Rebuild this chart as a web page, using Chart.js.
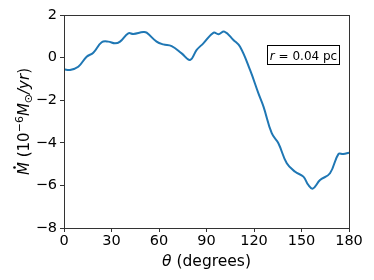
<!DOCTYPE html>
<html>
<head>
<meta charset="utf-8">
<script src="https://cdn.jsdelivr.net/npm/chart.js@4.4.1/dist/chart.umd.min.js"></script>
<style>
  html, body { margin: 0; padding: 0; background: #fff; }
  #wrap { width: 374px; height: 280px; }
</style>
</head>
<body>
<div id="wrap"><canvas id="mdot" width="374" height="280"></canvas></div>
<script>
// theta (degrees) and mass flux (10^-6 Msun/yr)
const theta = [0, 3.8, 9, 14.3, 18.5, 23.8, 28, 32.2, 35.4, 40.6, 43.8, 50.1, 52.2, 58.5, 62.7, 68, 74.3, 79.6,
  83.8, 88, 94.5, 97.5, 101.3, 107, 111.2, 117.5, 122.8, 126, 131.2, 135.4, 140.7, 146, 151.2, 154.3, 157.1,
  161.7, 168, 173.3, 176.4, 180];
const mdot = [-0.55, -0.58, -0.43, 0.04, 0.23, 0.72, 0.75, 0.67, 0.75, 1.14, 1.11, 1.2, 1.17, 0.75, 0.62, 0.54, 0.2, -0.11,
  0.36, 0.67, 1.17, 1.1, 1.22, 0.83, 0.51, -0.58, -1.68, -2.3, -3.55, -4.02, -4.96, -5.36, -5.59, -5.98, -6.15,
  -5.75, -5.43, -4.53, -4.53, -4.46];
const xTicks = [0, 30, 60, 90, 120, 150, 180];
const yTicks = [2, 0, -2, -4, -6, -8];
const boxLabel = ['r', ' = 0.04 pc'];

const TXT = '#000';
const FONT = 'DejaVu Sans';

// draws runs of text, each with its own style and offset
function drawRuns(c, runs, x, y, align) {
  let total = 0;
  runs.forEach(r => { c.font = r.font; r.w = c.measureText(r.t).width; total += r.w; });
  let cx = align === 'center' ? x - total / 2 : x;
  runs.forEach(r => {
    c.font = r.font;
    c.fillText(r.t, cx, y + (r.dy || 0));
    if (r.dot) {
      c.beginPath();
      c.arc(cx + r.w * 0.58, y - 14.5, 1.3, 0, Math.PI * 2);
      c.fill();
    }
    cx += r.w;
  });
}

const decor = {
  id: 'decor',
  afterDraw(chart) {
    const c = chart.ctx, a = chart.chartArea;
    c.save();
    c.strokeStyle = '#333';
    c.lineWidth = 1;
    c.strokeRect(Math.round(a.left) + 0.5, Math.round(a.top) + 0.5,
      Math.round(a.right - a.left), Math.round(a.bottom - a.top));

    c.fillStyle = TXT;
    c.textBaseline = 'alphabetic';
    // x label
    drawRuns(c, [
      { t: 'θ', font: 'italic 15.5px ' + FONT },
      { t: ' (degrees)', font: '15.5px ' + FONT }
    ], (a.left + a.right) / 2, 266, 'center');

    // y label
    c.save();
    c.translate(29, (a.top + a.bottom) / 2);
    c.rotate(-Math.PI / 2);
    drawRuns(c, [
      { t: 'M', font: 'italic 15px ' + FONT, dot: true },
      { t: ' (10', font: '15px ' + FONT },
      { t: '−6', font: '11px ' + FONT, dy: -6 },
      { t: 'M', font: 'italic 15px ' + FONT },
      { t: '⊙', font: '11px ' + FONT, dy: 3 },
      { t: '/yr', font: 'italic 15px ' + FONT },
      { t: ')', font: '15px ' + FONT }
    ], 0, 0, 'center');
    c.restore();

    // annotation box
    c.fillStyle = '#fff';
    c.fillRect(267.5, 45.5, 72, 19);
    c.strokeStyle = '#000';
    c.strokeRect(267.5, 45.5, 72, 19);
    c.fillStyle = TXT;
    drawRuns(c, [
      { t: boxLabel[0], font: 'italic 12px ' + FONT },
      { t: boxLabel[1], font: '12px ' + FONT }
    ], 303.5, 59.5, 'center');
    c.restore();
  }
};

new Chart(document.getElementById('mdot'), {
  type: 'line',
  data: {
    datasets: [{
      data: theta.map((t, i) => ({ x: t, y: mdot[i] })),
      borderColor: '#1f77b4',
      borderWidth: 2,
      pointRadius: 0,
      tension: 0.4,
      fill: false
    }]
  },
  options: {
    responsive: false,
    animation: false,
    layout: { padding: { top: 15, right: 25, left: 0, bottom: 0 } },
    plugins: { legend: { display: false }, tooltip: { enabled: false } },
    scales: {
      x: {
        type: 'linear', min: 0, max: 180,
        afterBuildTicks: s => { s.ticks = xTicks.map(v => ({ value: v })); },
        afterFit: s => { s.height = 52; },
        grid: { drawOnChartArea: false, drawTicks: true, tickLength: 4, color: '#333' },
        border: { display: false },
        ticks: { color: TXT, font: { family: FONT, size: 14.5 }, padding: 1, maxRotation: 0 }
      },
      y: {
        min: -8, max: 2,
        afterBuildTicks: s => { s.ticks = yTicks.map(v => ({ value: v })); },
        afterFit: s => { s.width = 64; },
        grid: { drawOnChartArea: false, drawTicks: true, tickLength: 4, color: '#333' },
        border: { display: false },
        ticks: {
          color: TXT, font: { family: FONT, size: 14.5 }, padding: 3,
          callback: v => String(v).replace('-', '−')
        }
      }
    }
  },
  plugins: [decor]
});
</script>
</body>
</html>
